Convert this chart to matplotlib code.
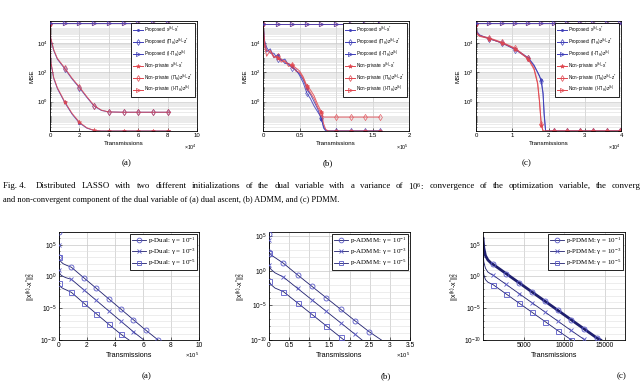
import numpy as np
import matplotlib
matplotlib.use("Agg")
import matplotlib.pyplot as plt
from matplotlib.ticker import LogLocator, NullFormatter
from matplotlib.lines import Line2D

plt.rcParams['font.family'] = ['Liberation Sans', 'DejaVu Sans']
plt.rcParams['mathtext.default'] = 'regular'
SERIF = ['Liberation Serif', 'DejaVu Serif']

# ---------------- top row data (values are log10 of the MSE) ----------------
# (a) dual ascent, x in units of 1e4 transmissions
ta_x = [0, 0.05, 0.25, 0.5, 1, 1.5, 2, 2.5, 3, 3.5, 4, 5, 6, 7, 8, 8.2]
ta_prop_x = [5.3, 2.7, 1.6, 0.9, -0.05, -0.85, -1.45, -1.8, -1.97, -2.0, -2.0, -2.0, -2.0, -2.0, -2.0, -2.0]
ta_prop_pz = [5.3, 4.3, 3.5, 2.9, 2.25, 1.55, 0.95, 0.3, -0.3, -0.6, -0.7, -0.72, -0.72, -0.72, -0.72, -0.72]
ta_prop_nz = [5.35, 5.35, 5.35, 5.35, 5.35, 5.35, 5.35, 5.35, 5.35, 5.35, 5.35, 5.35, 5.35, 5.35, 5.35, 5.35]
ta_np_x = [5.3, 2.75, 1.65, 0.95, 0.0, -0.8, -1.4, -1.78, -1.96, -2.0, -2.0, -2.0, -2.0, -2.0, -2.0, -2.0]
ta_np_pz = [5.3, 4.35, 3.55, 2.95, 2.3, 1.6, 1.0, 0.35, -0.27, -0.58, -0.7, -0.72, -0.72, -0.72, -0.72, -0.72]
ta_np_nz = [5.35, 5.35, 5.35, 5.35, 5.35, 5.35, 5.35, 5.35, 5.35, 5.35, 5.35, 5.35, 5.35, 5.35, 5.35, 5.35]
ta_marks = [0, 1, 2, 3, 4, 5, 6, 7, 8]

# (b) ADMM, x in units of 1e5 transmissions
tb_x = [0, 0.02, 0.05, 0.1, 0.15, 0.2, 0.25, 0.3, 0.35, 0.4, 0.45, 0.5, 0.55, 0.6, 0.65,
        0.7, 0.75, 0.8, 0.83, 0.86, 0.9, 1.0, 1.2, 1.4, 1.6]
tb_prop_x = [5.3, 4.0, 3.4, 3.6, 3.0, 3.2, 2.8, 2.9, 2.5, 2.4, 2.1, 1.9, 1.5, 0.9, 0.5,
             0.0, -0.5, -1.2, -1.7, -1.95, -2.0, -2.0, -2.0, -2.0, -2.0]
tb_prop_pz = [5.3, 4.2, 3.7, 3.3, 3.3, 2.9, 2.9, 2.6, 2.6, 2.3, 2.2, 1.8, 1.3, 0.6, 0.2,
              -0.3, -0.7, -1.1, -1.8, -2.0, -2.0, -2.0, -2.0, -2.0, -2.0]
tb_prop_nz = [5.3, 5.3, 5.3, 5.3, 5.3, 5.3, 5.3, 5.3, 5.3, 5.3, 5.3, 5.3, 5.3, 5.3, 5.3,
              5.3, 5.3, 5.3, 5.3, 5.3, 5.3, 5.3, 5.3, 5.3, 5.3]
tb_np_x = [5.3, 3.8, 3.1, 3.5, 3.1, 3.0, 2.9, 2.7, 2.6, 2.5, 2.3, 2.1, 1.7, 1.1, 0.8,
           0.4, -0.2, -0.7, -1.5, -1.9, -2.0, -2.0, -2.0, -2.0, -2.0]
tb_np_pz = [5.3, 4.1, 3.5, 3.4, 3.0, 3.1, 2.7, 2.8, 2.4, 2.5, 2.1, 2.0, 1.6, 1.0, 0.6,
            0.2, -0.4, -0.8, -1.05, -1.05, -1.05, -1.05, -1.05, -1.05, -1.05]
tb_np_nz = [5.3, 5.3, 5.3, 5.3, 5.3, 5.3, 5.3, 5.3, 5.3, 5.3, 5.3, 5.3, 5.3, 5.3, 5.3,
            5.3, 5.3, 5.3, 5.3, 5.3, 5.3, 5.3, 5.3, 5.3, 5.3]
tb_marks = [0, 0.2, 0.4, 0.6, 0.8, 1.0, 1.2, 1.4, 1.6]

# (c) PDMM, x in units of 1e4 transmissions
tc_x = [0, 0.02, 0.1, 0.36, 0.72, 1.08, 1.44, 1.6, 1.7, 1.75, 1.8, 1.85, 1.88, 1.92,
        2.16, 2.52, 2.88, 3.24, 3.6, 3.96, 4.0]
tc_prop_x = [5.3, 4.7, 4.5, 4.3, 4.0, 3.6, 3.0, 2.5, 2.0, 1.75, 1.45, 0.6, -0.8, -2.0,
             -2.0, -2.0, -2.0, -2.0, -2.0, -2.0, -2.0]
tc_prop_pz = [5.3, 4.8, 4.55, 4.3, 4.0, 3.55, 2.95, 2.45, 2.0, 1.75, 1.4, 0.5, -0.9, -2.0,
              -2.0, -2.0, -2.0, -2.0, -2.0, -2.0, -2.0]
tc_prop_nz = [5.35, 5.35, 5.35, 5.35, 5.35, 5.35, 5.35, 5.35, 5.35, 5.35, 5.35, 5.35, 5.35, 5.35,
              5.35, 5.35, 5.35, 5.35, 5.35, 5.35, 5.35]
tc_np_x = [5.3, 4.6, 4.45, 4.3, 4.0, 3.6, 2.9, 2.2, 1.2, 0.0, -1.6, -2.0, -2.0, -2.0,
           -2.0, -2.0, -2.0, -2.0, -2.0, -2.0, -2.0]
tc_np_pz = [5.3, 4.7, 4.5, 4.35, 4.05, 3.65, 2.95, 2.3, 1.3, 0.1, -1.5, -2.0, -2.0, -2.0,
            -2.0, -2.0, -2.0, -2.0, -2.0, -2.0, -2.0]
tc_np_nz = [5.35, 5.35, 5.35, 5.35, 5.35, 5.35, 5.35, 5.35, 5.35, 5.35, 5.35, 5.35, 5.35, 5.35,
            5.35, 5.35, 5.35, 5.35, 5.35, 5.35, 5.35]
tc_marks = [0, 0.36, 0.72, 1.08, 1.44, 1.8, 2.16, 2.52, 2.88, 3.24, 3.6, 3.96]

top_labels = ['Proposed: x$^{(k)}$-x$^{*}$',
              'Proposed: (Π$_H$)z$^{(k)}$-z$^{*}$',
              'Proposed: (I-Π$_H$)z$^{(k)}$',
              'Non-private: x$^{(k)}$-x$^{*}$',
              'Non-private: (Π$_H$)z$^{(k)}$-z$^{*}$',
              'Non-private: (I-Π$_H$)z$^{(k)}$']

# ---------------- bottom row data (log10 of the squared error) ----------------
# (a) p-Dual, x in units of 1e5
ba_x1 = [0, 0, 0.05, 0.15, 0.3, 0.5, 0.885, 1.77, 2.655, 3.54, 4.425, 5.31, 6.195, 7.08]
ba_y1 = [7.0, 3.0, 2.6, 2.3, 2.0, 1.8, 1.45, -0.2, -1.85, -3.5, -5.15, -6.8, -8.45, -10.0]
ba_x2 = [0, 0, 0.05, 0.15, 0.3, 0.5, 0.885, 1.77, 2.655, 3.54, 4.425, 5.31, 6.06]
ba_y2 = [5.0, 1.0, 0.5, 0.2, 0.0, -0.2, -0.45, -2.1, -3.75, -5.4, -7.05, -8.7, -10.0]
ba_x3 = [0, 0, 0.05, 0.15, 0.3, 0.5, 0.885, 1.77, 2.655, 3.54, 4.425, 5.0]
ba_y3 = [3.0, -1.0, -1.4, -1.7, -1.9, -2.1, -2.5, -4.2, -5.85, -7.5, -9.1, -10.0]
ba_marks = [0, 0.885, 1.77, 2.655, 3.54, 4.425, 5.31, 6.195, 7.08]

# (b) p-ADMM, x in units of 1e5
bb_x1 = [0, 0, 0.05, 0.15, 0.355, 0.71, 1.065, 1.42, 1.775, 2.13, 2.485, 2.79]
bb_y1 = [5.3, 2.7, 2.3, 1.9, 1.1, -0.6, -2.25, -3.9, -5.55, -7.2, -8.8, -10.0]
bb_x2 = [0, 0, 0.05, 0.15, 0.355, 0.71, 1.065, 1.42, 1.775, 2.13, 2.31]
bb_y2 = [4.5, 0.8, 0.2, -0.3, -0.9, -2.55, -4.2, -5.85, -7.5, -9.15, -10.0]
bb_x3 = [0, 0, 0.05, 0.15, 0.355, 0.71, 1.065, 1.42, 1.775, 1.86]
bb_y3 = [2.5, -1.5, -2.0, -2.5, -3.0, -4.65, -6.3, -7.95, -9.6, -10.0]
bb_marks = [0, 0.355, 0.71, 1.065, 1.42, 1.775, 2.13, 2.485]

# (c) p-PDMM, x in transmissions
bc_x1 = [0, 100, 300, 600, 1000, 1250, 2850, 4450, 6050, 7650, 9250, 10850, 12450, 14050, 14500]
bc_y1 = [6.0, 4.5, 3.3, 2.6, 2.1, 1.9, 0.45, -1.0, -2.45, -3.9, -5.35, -6.8, -8.25, -9.7, -10.0]
bc_x2 = [0, 100, 300, 600, 1000, 1250, 2850, 4450, 6050, 7650, 9250, 10850, 12450, 12600]
bc_y2 = [4.0, 2.3, 1.3, 0.7, 0.35, 0.2, -1.25, -2.7, -4.15, -5.6, -7.05, -8.5, -9.9, -10.0]
bc_x3 = [0, 100, 300, 600, 1000, 1250, 2850, 4450, 6050, 7650, 9250, 10850, 10950]
bc_y3 = [2.0, 0.3, -0.5, -0.9, -1.15, -1.3, -2.75, -4.2, -5.65, -7.1, -8.55, -9.95, -10.0]
bc_marks = [1250, 2850, 4450, 6050, 7650, 9250, 10850, 12450, 14050]

cap_tag = 'Fig. 4.'
cap1 = ('Distributed LASSO with two different initializations of the dual variable with a '
        'variance of 10$^{6}$: convergence of the optimization variable, the converg')
cap2 = 'and non-convergent component of the dual variable of (a) dual ascent, (b) ADMM, and (c) PDMM.'

blue = '#3d3db8'
red = '#e0474f'
navy = '#1f1f6e'
lblue = '#5a5ac8'
W, H = 640, 387


def box(l, r, t, b):
    # pixel box -> figure fraction
    return [l / W, 1 - b / H, (r - l) / W, (b - t) / H]


def mark_idx(xs, marks):
    return [i for i, v in enumerate(xs) if any(abs(v - m) < 1e-9 for m in marks)]


def style(ax, fs):
    ax.set_yscale('log')
    ax.tick_params(which='both', direction='in', labelsize=fs, width=0.4, pad=1.5)
    ax.tick_params(which='major', length=2)
    ax.tick_params(which='minor', length=1)
    for s in ax.spines.values():
        s.set_linewidth(0.6)
    ax.set_axisbelow(True)


fig = plt.figure(figsize=(6.4, 3.87), dpi=100)

# ---------------- top row ----------------
top = [
    (box(50, 197, 21, 131), ta_x, [ta_prop_x, ta_prop_pz, ta_prop_nz, ta_np_x, ta_np_pz, ta_np_nz],
     ta_marks, (0, 10), [0, 2, 4, 6, 8, 10], '×10$^{4}$', '(a)', 127),
    (box(263, 409, 21, 131), tb_x, [tb_prop_x, tb_prop_pz, tb_prop_nz, tb_np_x, tb_np_pz, tb_np_nz],
     tb_marks, (0, 2), [0, 0.5, 1, 1.5, 2], '×10$^{5}$', '(b)', 328),
    (box(476, 621, 21, 131), tc_x, [tc_prop_x, tc_prop_pz, tc_prop_nz, tc_np_x, tc_np_pz, tc_np_nz],
     tc_marks, (0, 4), [0, 1, 2, 3, 4], '×10$^{4}$', '(c)', 527),
]
mk = ['.', 'd', '>', '*', 'd', '>']
for pos, xs, series, marks, xlim, xticks, offs, tag, tagx in top:
    ax = fig.add_axes(pos)
    style(ax, 4.3)
    idx = mark_idx(xs, marks)
    for j, ys in enumerate(series):
        c = blue if j < 3 else red
        # blue triangles sit on top of the red ones, as in the original
        z = 4 if j == 2 else 2
        ax.plot(xs, 10 ** np.array(ys), color=c, lw=0.7, marker=mk[j],
                ms=3.2 if mk[j] != '.' else 3.5, mfc='none' if mk[j] in ('d', '>') else c,
                mec=c, mew=0.5, markevery=idx, alpha=0.85, zorder=z)
    ax.set_xlim(*xlim)
    ax.set_xticks(xticks)
    ax.set_xticklabels([('%g' % v) for v in xticks])
    ax.set_ylim(10 ** -2, 10 ** 5.5)
    ax.set_yticks([1, 1e2, 1e4])
    ax.yaxis.set_minor_locator(LogLocator(base=10, subs=np.arange(1, 10), numticks=30))
    ax.yaxis.set_minor_formatter(NullFormatter())
    ax.grid(True, which='major', color='#c8c8c8', lw=0.5)
    ax.grid(True, which='minor', axis='y', color='#dcdcdc', lw=0.4)
    ax.set_ylabel('MSE', fontsize=4.5, labelpad=2)
    ax.set_xlabel('Transmissions', fontsize=4.5, labelpad=2)
    ax.text(1.0, -0.11, offs, transform=ax.transAxes, ha='right', va='top', fontsize=3.8)
    handles = [Line2D([], [], color=blue if j < 3 else red, lw=0.7, marker=mk[j], ms=3,
                      mfc='none' if mk[j] in ('d', '>') else (blue if j < 3 else red),
                      mec=blue if j < 3 else red, mew=0.5) for j in range(6)]
    lg = ax.legend(handles, top_labels, loc='upper right', fontsize=3.3, frameon=True,
                   fancybox=False, edgecolor='black', framealpha=1, handlelength=2.2,
                   borderaxespad=0.35, labelspacing=0.35, borderpad=0.45, handletextpad=0.4)
    lg.get_frame().set_linewidth(0.6)
    lg.set_zorder(6)
    fig.text(tagx / W, 1 - 163 / H, tag, ha='center', va='center', fontsize=6.5, family=SERIF)

# ---------------- caption (first line justified, cut by the page edge) ----------------
fig.text(3 / W, 1 - 186 / H, cap_tag, ha='left', va='center', fontsize=6.4, family=SERIF)
renderer = fig.canvas.get_renderer()
words = cap1.split(' ')
objs = [fig.text(0, 1 - 186 / H, w, ha='left', va='center', fontsize=6.4, family=SERIF)
        for w in words]
widths = [o.get_window_extent(renderer).width for o in objs]
x0, x1 = 36.0, 641.0
gap = (x1 - x0 - sum(widths)) / (len(words) - 1)
xp = x0
for o, w in zip(objs, widths):
    o.set_x(xp / W)
    xp += w + gap
fig.text(3 / W, 1 - 200 / H, cap2, ha='left', va='center', fontsize=6.0, family=SERIF)

# ---------------- bottom row ----------------
bottom = [
    (box(59, 199, 232, 340), [(ba_x1, ba_y1), (ba_x2, ba_y2), (ba_x3, ba_y3)], ba_marks,
     (0, 10), [0, 2, 4, 6, 8, 10], 7, '×10$^{5}$', 'p-Dual', '(a)', 147),
    (box(269, 410, 232, 340), [(bb_x1, bb_y1), (bb_x2, bb_y2), (bb_x3, bb_y3)], bb_marks,
     (0, 3.5), [0, 0.5, 1, 1.5, 2, 2.5, 3, 3.5], 5.6, '×10$^{5}$', 'p-ADMM', '(b)', 386),
    (box(483, 625, 232, 340), [(bc_x1, bc_y1), (bc_x2, bc_y2), (bc_x3, bc_y3)], bc_marks,
     (0, 17500), [5000, 10000, 15000], 7, None, 'p-PDMM', '(c)', 622),
]
bmk = ['o', 'x', 's']
bexp = ['-1', '-3', '-5']
for pos, series, marks, xlim, xticks, ytop, offs, name, tag, tagx in bottom:
    ax = fig.add_axes(pos)
    style(ax, 4.8)
    for j, (xs, ys) in enumerate(series):
        lw = 2.0 if (name == 'p-PDMM' and j == 0) else 0.6
        ax.plot(xs, 10 ** np.array(ys), color=navy, lw=lw, zorder=2)
        idx = mark_idx(xs, marks)
        ax.plot(np.array(xs)[idx], 10 ** np.array(ys)[idx], ls='none', marker=bmk[j],
                ms=3.6 if bmk[j] != 'x' else 2.8, mfc='none', mec=lblue, mew=0.6, zorder=3)
    ax.set_xlim(*xlim)
    ax.set_xticks(xticks)
    ax.set_xticklabels([('%g' % v) for v in xticks])
    ax.set_ylim(1e-10, 10 ** ytop)
    ax.set_yticks([1e-10, 1e-5, 1, 1e5])
    ax.yaxis.set_minor_locator(LogLocator(base=10, subs=(1.0,), numticks=40))
    ax.yaxis.set_minor_formatter(NullFormatter())
    ax.grid(True, which='major', color='#c8c8c8', lw=0.5)
    ax.grid(True, which='minor', axis='y', color='#e0e0e0', lw=0.4)
    ax.set_ylabel('||x$^{(k)}$-x$^{*}$||$_2^2$', fontsize=5, labelpad=1)
    ax.set_xlabel('Transmissions', fontsize=5.2, labelpad=2)
    if offs:
        ax.text(1.0, -0.1, offs, transform=ax.transAxes, ha='right', va='top', fontsize=4.2)
    handles = [Line2D([], [], color=navy, lw=0.6, marker=bmk[j], ms=3.4, mfc='none',
                      mec=lblue, mew=0.6) for j in range(3)]
    labels = ['%s: γ = 10$^{%s}$' % (name, e) for e in bexp]
    lg = ax.legend(handles, labels, loc='upper right', frameon=True,
                   fancybox=False, edgecolor='black', framealpha=1, handlelength=2.0,
                   borderaxespad=0.25, labelspacing=0.15, borderpad=0.25, handletextpad=0.3,
                   prop={'family': SERIF, 'size': 5.0})
    lg.get_frame().set_linewidth(0.6)
    fig.text(tagx / W, 1 - 376 / H, tag, ha='center', va='center', fontsize=6.5, family=SERIF)

fig.savefig('out.png', dpi=100)
